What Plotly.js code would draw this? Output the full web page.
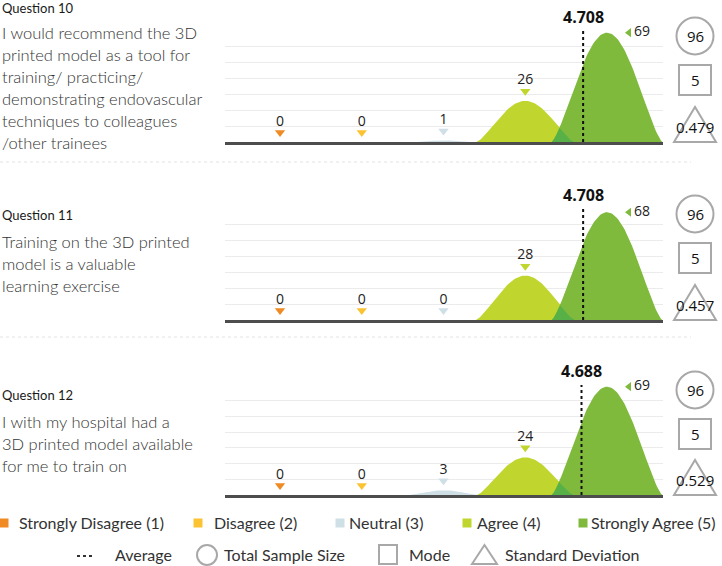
<!DOCTYPE html>
<html><head><meta charset="utf-8">
<script src="https://cdn.plot.ly/plotly-3.0.1.min.js"></script>
<style>body{margin:0;padding:0;background:#fff}</style>
</head><body><div id="chart" style="width:722px;height:566px"></div>
<script>
// ---------- data ----------
const categories = ['Strongly Disagree (1)', 'Disagree (2)', 'Neutral (3)', 'Agree (4)', 'Strongly Agree (5)'];
const scores = [1, 2, 3, 4, 5];
const catColors = ['#f08a24', '#fbc232', '#cfdfe6', '#c0d62f', '#7fba3c'];
const overlapColor = '#58b147';
const questionTitles = ['Question 10', 'Question 11', 'Question 12'];
const questionLines = [
  ['I would recommend the 3D', 'printed model as a tool for', 'training/ practicing/', 'demonstrating endovascular', 'techniques to colleagues', '/other trainees'],
  ['Training on the 3D printed', 'model is a valuable', 'learning exercise'],
  ['I with my hospital had a', '3D printed model available', 'for me to train on']
];
const q10Counts = [0, 0, 1, 26, 69];
const q11Counts = [0, 0, 0, 28, 68];
const q12Counts = [0, 0, 3, 24, 69];
const averages = [4.708, 4.708, 4.688];
const sampleSizes = [96, 96, 96];
const modes = [5, 5, 5];
const stdDevs = [0.479, 0.457, 0.529];
const summaryLabels = ['Average', 'Total Sample Size', 'Mode', 'Standard Deviation'];

const countsAll = [q10Counts, q11Counts, q12Counts];

// ---------- layout geometry (pixels) ----------
const W = 722, H = 566;
const plotLeft = 225, plotRight = 663;
const tops = [31, 209, 385], bases = [142, 320, 495];
const titleY = [8, 215, 395], firstLineY = [33, 242, 422], lineStep = 22;
const yMax = 70;
const xRange = [0.327, 5.685];
const pxPerX = (plotRight - plotLeft) / (xRange[1] - xRange[0]);
const px = x => x / W, py = y => 1 - y / H;

function humpWidth(v) { return 0.33 + 0.082 * Math.log(v); }
function humpY(v, c, x) {
  const w = humpWidth(v); const t = (x - c) / w;
  if (Math.abs(t) >= 1) return 0;
  return v * Math.pow(Math.cos(Math.PI * t / 2), 1.35);
}

const traces = [];
const shapes = [];
const annotations = [];
const layout = {
  width: W, height: H, margin: {l: 0, r: 0, t: 0, b: 0},
  paper_bgcolor: '#fff', plot_bgcolor: 'rgba(0,0,0,0)', showlegend: false,
  font: {family: 'Lato, "Open Sans", sans-serif', color: '#333'}
};
function paperText(x, y, text, font, xanchor) {
  annotations.push({xref: 'paper', yref: 'paper', x: px(x), y: py(y), xanchor: xanchor || 'center', yanchor: 'middle',
    showarrow: false, text: text, font: font, align: 'left', borderpad: 0});
}

countsAll.forEach((counts, qi) => {
  const sfx = qi === 0 ? '' : String(qi + 1);
  const xa = 'x' + sfx, ya = 'y' + sfx;
  const ppu = (bases[qi] - tops[qi]) / yMax;
  layout['xaxis' + sfx] = {
    domain: [px(plotLeft), px(plotRight)], range: xRange, anchor: ya,
    showgrid: false, zeroline: false, showticklabels: false, ticks: '',
    showline: true, linecolor: '#4d4d4d', linewidth: 3, fixedrange: true
  };
  layout['yaxis' + sfx] = {
    domain: [py(bases[qi]), py(tops[qi])], range: [0, yMax + 0.05], anchor: xa,
    dtick: 10, tick0: 0, showgrid: true, gridcolor: '#ebebeb', gridwidth: 1,
    zeroline: false, showticklabels: false, ticks: '', showline: false, fixedrange: true
  };
  // humps
  counts.forEach((v, ci) => {
    if (v <= 0) return;
    const c = scores[ci], w = humpWidth(v);
    const xs = [], ys = [];
    for (let k = 0; k <= 80; k++) { const x = c - w + 2 * w * k / 80; xs.push(x); ys.push(humpY(v, c, x)); }
    traces.push({type: 'scatter', x: xs, y: ys, xaxis: xa, yaxis: ya, mode: 'lines', fill: 'toself',
      fillcolor: catColors[ci], line: {width: 0}, hoverinfo: 'skip'});
  });
  // overlap of Agree and Strongly Agree
  const vA = counts[3], vS = counts[4];
  if (vA > 0 && vS > 0) {
    const lo = scores[4] - humpWidth(vS), hi = scores[3] + humpWidth(vA);
    if (hi > lo) {
      const xs = [], ys = [];
      for (let k = 0; k <= 60; k++) { const x = lo + (hi - lo) * k / 60; xs.push(x); ys.push(Math.min(humpY(vA, scores[3], x), humpY(vS, scores[4], x))); }
      traces.push({type: 'scatter', x: xs, y: ys, xaxis: xa, yaxis: ya, mode: 'lines', fill: 'toself',
        fillcolor: overlapColor, line: {width: 0}, hoverinfo: 'skip'});
    }
  }
  // markers + value labels (first four above, last to the right)
  const n = scores.length;
  const mx = [], my = [], tx = [], ty = [], tt = [];
  for (let ci = 0; ci < n - 1; ci++) {
    mx.push(scores[ci]); my.push(counts[ci] + 9.5 / ppu);
    tx.push(scores[ci]); ty.push(counts[ci] + 20 / ppu); tt.push(String(counts[ci]));
  }
  const valFont = {family: '"Open Sans", sans-serif', size: 14, color: '#222'};
  traces.push({type: 'scatter', x: mx, y: my, xaxis: xa, yaxis: ya, mode: 'markers', cliponaxis: false,
    marker: {symbol: 'triangle-down', size: 9, color: catColors.slice(0, n - 1), line: {width: 0}}, hoverinfo: 'skip'});
  traces.push({type: 'scatter', x: tx, y: ty, xaxis: xa, yaxis: ya, mode: 'text', text: tt, cliponaxis: false,
    textposition: 'middle center', textfont: valFont, hoverinfo: 'skip'});
  traces.push({type: 'scatter', x: [scores[n - 1] + 22 / pxPerX], y: [counts[n - 1]], xaxis: xa, yaxis: ya, mode: 'markers', cliponaxis: false,
    marker: {symbol: 'triangle-left', size: 8, color: catColors[n - 1]}, hoverinfo: 'skip'});
  traces.push({type: 'scatter', x: [scores[n - 1] + 27 / pxPerX], y: [counts[n - 1]], xaxis: xa, yaxis: ya, mode: 'text', cliponaxis: false,
    text: [String(counts[n - 1])], textposition: 'middle right', textfont: valFont, hoverinfo: 'skip'});
  // mean line
  shapes.push({type: 'line', xref: xa, yref: ya, x0: averages[qi], x1: averages[qi], y0: 0, y1: yMax,
    line: {color: '#111', width: 2, dash: 'dot'}});
  annotations.push({xref: xa, yref: ya, x: averages[qi], y: yMax, yshift: 14, showarrow: false, xanchor: 'center', yanchor: 'middle',
    text: '<b>' + averages[qi].toFixed(3) + '</b>', font: {family: '"Open Sans", sans-serif', size: 16, color: '#111'}});
  // question text
  paperText(1, titleY[qi], questionTitles[qi], {size: 13, color: '#1a1a1a'}, 'left');
  questionLines[qi].forEach((line, li) => paperText(1, firstLineY[qi] + li * lineStep, line,
    {size: 16.5, color: '#333', weight: 300}, 'left'));
  // summary shapes
  const t = tops[qi], b = bases[qi];
  const gray = {color: '#a8a8a8', width: 2};
  shapes.push({type: 'circle', xref: 'paper', yref: 'paper', x0: px(676.5), x1: px(713.5), y0: py(t + 5 + 18.5), y1: py(t + 5 - 18.5), line: gray});
  shapes.push({type: 'rect', xref: 'paper', yref: 'paper', x0: px(679), x1: px(711), y0: py(t + 64), y1: py(t + 34), line: gray});
  shapes.push({type: 'path', xref: 'paper', yref: 'paper', line: gray,
    path: `M ${px(674)} ${py(b)} L ${px(695)} ${py(b - 35)} L ${px(716)} ${py(b)} Z`});
  const numFont = {family: '"Open Sans", sans-serif', size: 15, color: '#111'};
  paperText(695, t + 5, String(sampleSizes[qi]), numFont);
  paperText(695, t + 49, String(modes[qi]), numFont);
  paperText(695, b - 15, stdDevs[qi].toFixed(3), numFont);
});

// separators
[162, 337].forEach(y => shapes.push({type: 'line', xref: 'paper', yref: 'paper', x0: 0, x1: px(691), y0: py(y), y1: py(y),
  line: {color: '#e2e2e2', width: 1, dash: 'dot'}}));

// legend row 1
const sqX = [4, 198, 340, 467, 583], txX = [18, 213, 348, 476, 590];
categories.forEach((c, i) => {
  shapes.push({type: 'rect', xref: 'paper', yref: 'paper', x0: px(sqX[i] - 4.5), x1: px(sqX[i] + 4.5), y0: py(527.5), y1: py(518.5),
    fillcolor: catColors[i], line: {width: 0}});
  paperText(txX[i], 522, c, {size: 16, color: '#333'}, 'left');
});
// legend row 2
const lg = {color: '#a8a8a8', width: 2};
shapes.push({type: 'line', xref: 'paper', yref: 'paper', x0: px(77), x1: px(94), y0: py(556), y1: py(556), line: {color: '#333', width: 2, dash: 'dot'}});
shapes.push({type: 'circle', xref: 'paper', yref: 'paper', x0: px(197), x1: px(217), y0: py(565), y1: py(545), line: lg});
shapes.push({type: 'rect', xref: 'paper', yref: 'paper', x0: px(379), x1: px(397), y0: py(564), y1: py(545), line: lg});
shapes.push({type: 'path', xref: 'paper', yref: 'paper', line: lg,
  path: `M ${px(472)} ${py(564)} L ${px(484.5)} ${py(545)} L ${px(497)} ${py(564)} Z`});
const row2X = [114, 223, 408, 504];
summaryLabels.forEach((s, i) => paperText(row2X[i], 554, s, {size: 16, color: '#333'}, 'left'));

layout.shapes = shapes;
layout.annotations = annotations;
Plotly.newPlot('chart', traces, layout, {displayModeBar: false, staticPlot: true});
</script></body></html>
